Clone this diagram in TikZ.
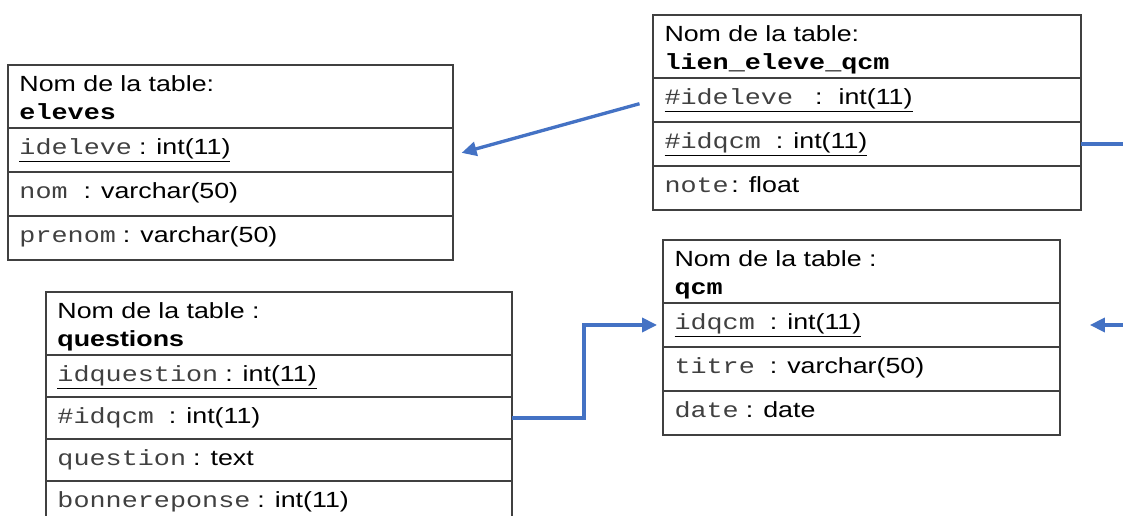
\documentclass[tikz,border=0pt]{standalone}
\usepackage{fontspec}
\setmainfont{Liberation Sans}[FakeStretch=1.22]
\setmonofont{Liberation Mono}[FakeStretch=1.22]
\usetikzlibrary{positioning,arrows.meta}
\definecolor{bleulien}{RGB}{68,114,196}
\newcommand{\champ}[1]{{\color{black!75}\ttfamily #1}}
\newcommand{\nomtable}[1]{{\ttfamily\bfseries #1}}
\newcommand{\attribut}[3]{\champ{#1}\hspace{#2}:\hspace{0.2cm}#3}

\begin{document}
\begin{tikzpicture}[x=0.02cm,y=-0.02cm,
	entete/.style={draw=black!75,line width=0.8pt,outer sep=0pt,anchor=north west,inner xsep=0.23cm,inner ysep=0pt,text height=0.52cm,text depth=0.74cm,font=\fontsize{12.5}{16.2}\selectfont},
	ligne/.style={draw=black!75,line width=0.8pt,outer sep=0pt,inner xsep=0.23cm,inner ysep=0pt,text height=0.53cm,text depth=#1,font=\fontsize{12.5}{16.2}\selectfont},
	ligne/.default=0.35cm,
	lien/.style={draw=bleulien,line width=1.9pt,-{Triangle[length=8.5pt,width=8pt]}}]
\useasboundingbox (0,0) rectangle (1123,515);
% table eleves
\begin{scope}[text width=8.44cm]
\node[entete] (eleves) at (8,65) {\parbox[t]{8.44cm}{Nom de la table:\\\nomtable{eleves}}};
\node[ligne,below=0pt of eleves] (elevesid) {\underline{\attribut{ideleve}{0.14cm}{int(11)}}};
\node[ligne,below=0pt of elevesid] (elevesnom) {\attribut{nom}{0.32cm}{varchar(50)}};
\node[ligne,below=0pt of elevesnom] (elevesprenom) {\attribut{prenom}{0.14cm}{varchar(50)}};
\end{scope}
% table lien_eleve_qcm
\begin{scope}[text width=8.10cm]
\node[entete] (lien) at (653,15) {\parbox[t]{8.10cm}{Nom de la table:\\\nomtable{lien\_eleve\_qcm}}};
\node[ligne,below=0pt of lien] (lienideleve) {\underline{\champ{\#ideleve}\hspace{0.44cm}:\hspace{0.32cm}int(11)}};
\node[ligne,below=0pt of lienideleve] (lienidqcm) {\underline{\attribut{\#idqcm}{0.3cm}{int(11)}}};
\node[ligne,below=0pt of lienidqcm] (liennote) {\attribut{note}{0.05cm}{float}};
\end{scope}
% table questions
\begin{scope}[text width=8.86cm]
\node[entete] (questions) at (46,292) {\parbox[t]{8.86cm}{Nom de la table :\\\textbf{questions}}};
\node[ligne=0.31cm,below=0pt of questions] (qstid) {\underline{\attribut{idquestion}{0.14cm}{int(11)}}};
\node[ligne=0.31cm,below=0pt of qstid] (qstidqcm) {\attribut{\#idqcm}{0.3cm}{int(11)}};
\node[ligne=0.31cm,below=0pt of qstidqcm] (qstquestion) {\attribut{question}{0.14cm}{text}};
\node[ligne=0.31cm,below=0pt of qstquestion] (qstbonne) {\attribut{bonnereponse}{0.14cm}{int(11)}};
\end{scope}
% table qcm
\begin{scope}[text width=7.48cm]
\node[entete] (qcm) at (663,240) {\parbox[t]{7.48cm}{Nom de la table :\\\nomtable{qcm}}};
\node[ligne,below=0pt of qcm] (qcmid) {\underline{\attribut{idqcm}{0.3cm}{int(11)}}};
\node[ligne,below=0pt of qcmid] (qcmtitre) {\attribut{titre}{0.3cm}{varchar(50)}};
\node[ligne,below=0pt of qcmtitre] (qcmdate) {\attribut{date}{0.14cm}{date}};
\end{scope}
% liens
\draw[lien,shorten <=0.28cm,shorten >=0.18cm] (lienideleve.west) -- ([yshift=-3]elevesid.east);
\draw[lien,shorten >=0.12cm] (qstidqcm.east) -- ++(72,0) |- (qcmid.west);
\draw[lien,shorten >=0.6cm] (lienidqcm.east) -- ++(60,0) |- (qcmid.east);
\end{tikzpicture}
\end{document}
